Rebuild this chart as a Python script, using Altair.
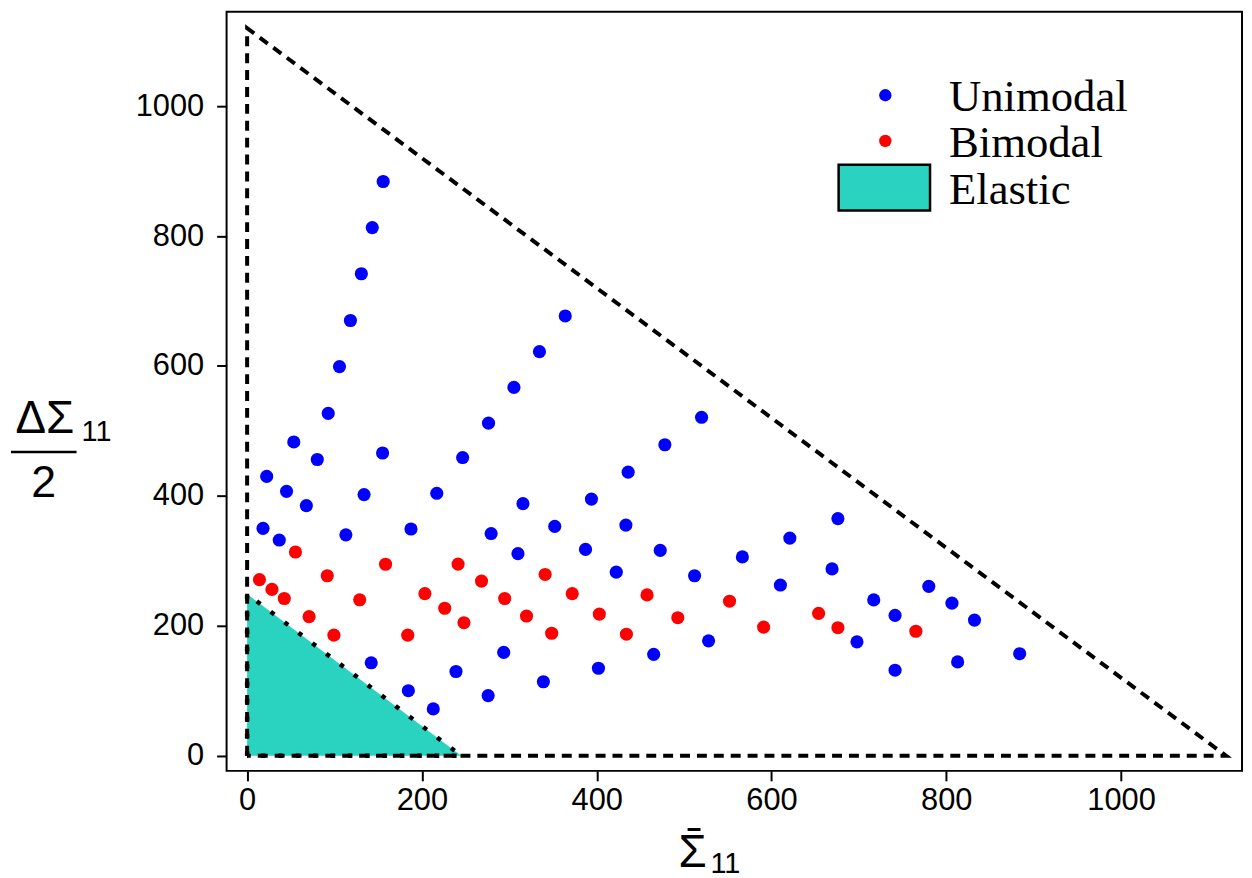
import altair as alt
import pandas as pd

# ---- data ----
unimodal_x = [155.7, 143.2, 130.7, 118.2, 105.7, 92.8, 53.4, 80.3, 155.0, 246.6, 22.4, 45.1, 133.8, 217.0,
              315.6, 67.8, 18.2, 36.8, 113.0, 187.5, 279.2, 309.9, 293.6, 142.0, 239.0, 184.5, 275.8, 213.0,
              364.0, 334.5, 305.3, 276.2, 520.0, 478.0, 436.0, 394.0, 352.0, 433.4, 387.2, 472.7, 676.0,
              621.0, 566.7, 422.4, 512.0, 669.3, 610.2, 465.2, 528.0, 402.0, 339.0, 780.0, 717.0, 806.5,
              741.4, 832.3, 697.8, 741.4, 813.0, 884.0]
unimodal_y = [884, 813, 742, 670, 599, 527, 483, 456, 466, 459, 430, 407, 402, 404,
              388, 385, 350, 332, 340, 349, 342, 311, 159, 143, 129.6, 100, 92.5, 72,
              677, 622, 567, 512, 521, 478.7, 436.5, 395, 353, 355, 317.6, 316, 365,
              335, 306, 282.5, 277, 287.6, 262.7, 156, 176.8, 134.6, 113.8, 260.7, 239.8, 234.8,
              216, 208.8, 175.3, 131.6, 144.4, 157]
bimodal_x = [55.3, 158.4, 241.4, 14.1, 91.7, 268.2, 28.4, 42.5, 128.8, 203.4, 226.1, 294.7, 319.7, 70.9,
             248.1, 99.3, 183.8, 341.0, 372.0, 457.6, 403.0, 492.8, 552.0, 348.5, 434.0, 591.0, 653.9,
             676.0, 765.2]
bimodal_y = [313.6, 294.7, 295, 271, 277, 268.8, 256, 242, 240, 249.5, 227, 242, 215, 214,
             204.7, 185.5, 185.5, 279, 249.5, 247.5, 218, 212.4, 237.8, 188.5, 187, 198, 219,
             197, 191.6]

outer_x = [0, 0, 1120, 0]
outer_y = [0, 1120, 0, 0]
elastic_x = [0, 0, 245, 0]
elastic_y = [0, 249, 0, 0]

x_ticks = [0, 200, 400, 600, 800, 1000]
y_ticks = [0, 200, 400, 600, 800, 1000]

legend_labels = ["Unimodal", "Bimodal", "Elastic"]

BLUE = "#0000ff"
RED = "#ff0000"
TEAL = "#2ad3bf"

pts = pd.DataFrame({
    "x": unimodal_x + bimodal_x,
    "y": unimodal_y + bimodal_y,
    "type": ["Unimodal"] * len(unimodal_x) + ["Bimodal"] * len(bimodal_x),
})
outer = pd.DataFrame({"x": outer_x, "y": outer_y, "i": list(range(len(outer_x)))})
elastic = pd.DataFrame({"x": elastic_x, "y": elastic_y, "i": list(range(len(elastic_x)))})
elastic_fill = pd.DataFrame({"x": [0, 245], "y": [249, 0], "y0": [0, 0]})

W, H = 1022, 764
xscale = alt.Scale(domain=[-23.5, 1138.4], nice=False, zero=False)
yscale = alt.Scale(domain=[-23.4, 1145.3], nice=False, zero=False)

xaxis = alt.Axis(values=x_ticks, title=None, grid=False, domain=False, tickColor="black", tickWidth=2,
                 tickSize=10, labelFont="Liberation Sans", labelFontSize=31, labelColor="black",
                 labelPadding=5, format="d")
yaxis = alt.Axis(values=y_ticks, title=None, grid=False, domain=False, tickColor="black", tickWidth=2,
                 tickSize=10, labelFont="Liberation Sans", labelFontSize=31, labelColor="black",
                 labelPadding=13, format="d")

fill_layer = alt.Chart(elastic_fill).mark_area(color=TEAL, opacity=1).encode(
    x=alt.X("x:Q", scale=xscale, axis=xaxis),
    y=alt.Y("y:Q", scale=yscale, axis=yaxis),
    y2="y0:Q",
)

outer_layer = alt.Chart(outer).mark_line(color="black", strokeWidth=4, strokeDash=[10, 7]).encode(
    x="x:Q", y="y:Q", order="i:O"
)

elastic_layer = alt.Chart(elastic).mark_line(color="black", strokeWidth=4.5, strokeDash=[4.5, 13]).encode(
    x="x:Q", y="y:Q", order="i:O"
)

point_layer = alt.Chart(pts).mark_circle(size=175, opacity=1).encode(
    x="x:Q", y="y:Q",
    color=alt.Color("type:N", scale=alt.Scale(domain=["Unimodal", "Bimodal"], range=[BLUE, RED]), legend=None),
)

# ---- manual legend ----
leg_df = pd.DataFrame({"label": legend_labels})
leg_blue = alt.Chart(leg_df.iloc[[0]]).mark_circle(size=155, opacity=1, color=BLUE).encode(
    x=alt.value(663), y=alt.value(84))
leg_red = alt.Chart(leg_df.iloc[[1]]).mark_circle(size=155, opacity=1, color=RED).encode(
    x=alt.value(663), y=alt.value(130))
leg_rect = alt.Chart(leg_df.iloc[[2]]).mark_rect(fill=TEAL, stroke="black", strokeWidth=2.5).encode(
    x=alt.value(616), x2=alt.value(708), y=alt.value(154), y2=alt.value(200))
leg_text = alt.Chart(leg_df.assign(yy=[100, 146, 193])).mark_text(
    font="Liberation Serif", fontSize=45, align="left", baseline="alphabetic", color="black"
).encode(x=alt.value(727), y=alt.Y("yy:Q", scale=None), text="label:N")

# ---- axis titles drawn as text ----
ttl = pd.DataFrame({"t": ["ΔΣ", "11", "2", "Σ", "11"],
                    "px": [-183, -146, -184, 469, 487],
                    "py": [424, 432, 488, 861, 867],
                    "fs": [46, 29, 45, 46, 29],
                    "al": ["center", "left", "center", "center", "left"]})
title_layers = []
for _, r in ttl.iterrows():
    title_layers.append(
        alt.Chart(pd.DataFrame({"t": [r["t"]]})).mark_text(
            font="Liberation Sans", fontSize=int(r["fs"]), align=r["al"], baseline="alphabetic", color="black"
        ).encode(x=alt.value(float(r["px"])), y=alt.value(float(r["py"])), text="t:N")
    )
frac_line = alt.Chart(pd.DataFrame({"a": [0]})).mark_rule(color="black", strokeWidth=2.5).encode(
    x=alt.value(-217), x2=alt.value(-151), y=alt.value(443))
bar_line = alt.Chart(pd.DataFrame({"a": [0]})).mark_rule(color="black", strokeWidth=3).encode(
    x=alt.value(464), x2=alt.value(477), y=alt.value(823))

chart = alt.layer(
    fill_layer, outer_layer, elastic_layer, point_layer,
    leg_blue, leg_red, leg_rect, leg_text,
    *title_layers, frac_line, bar_line,
).properties(
    width=W, height=H,
    autosize=alt.AutoSizeParams(type="none"),
    padding={"left": 220, "top": 1, "right": 2, "bottom": 105},
).configure(
    background="white"
).configure_view(
    stroke="black", strokeWidth=2
)

chart.save("out.html", embed_options={"renderer": "svg", "actions": False})
